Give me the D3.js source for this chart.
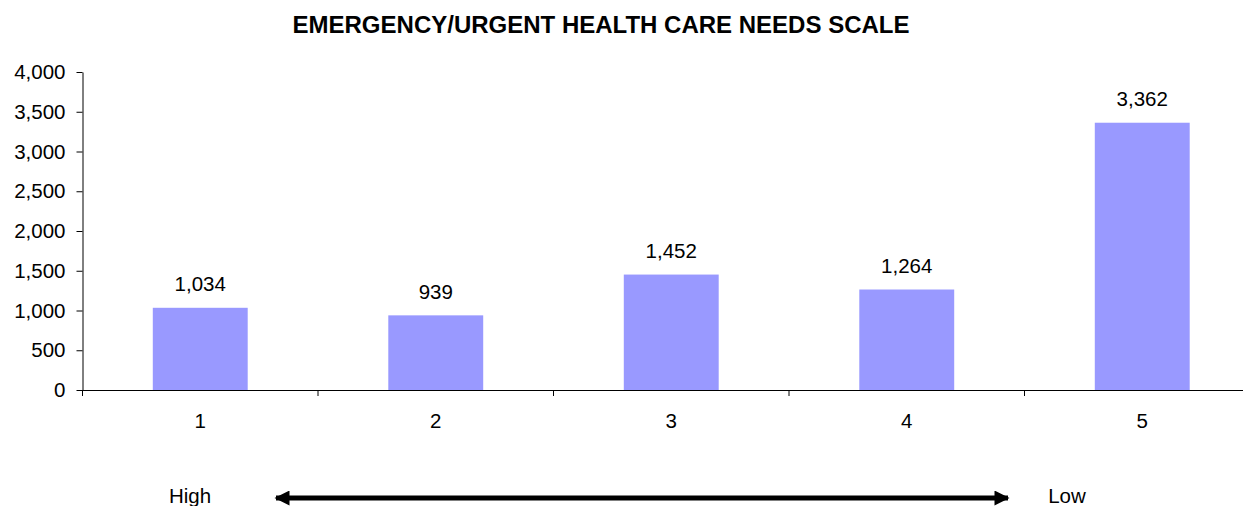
<!DOCTYPE html>
<html>
<head>
<meta charset="utf-8">
<script src="https://cdn.jsdelivr.net/npm/d3@7"></script>
<style>
  body { margin: 0; background: #fff; }
  svg { font-family: "Liberation Sans", Arial, sans-serif; }
</style>
</head>
<body>
<svg id="chart"></svg>
<script>
var categories = ["1", "2", "3", "4", "5"];
var values = [1034, 939, 1452, 1264, 3362];
var yTicks = [0, 500, 1000, 1500, 2000, 2500, 3000, 3500, 4000];
var scaleEnds = ["High", "Low"];

var width = 1243,
    height = 506;

var svg = d3.select("#chart")
  .attr("width", width)
  .attr("height", height);

var plotLeft = 82.5, plotRight = 1260, plotTop = 72, plotBottom = 390;
var inner = 0.597;
var labelSize = "20.5px";

var x = d3.scaleBand()
  .domain(categories)
  .range([plotLeft, plotRight])
  .paddingInner(inner)
  .paddingOuter(inner / 2);

var y = d3.scaleLinear()
  .domain([0, 4000])
  .range([plotBottom, plotTop]);

// title
svg.append("text")
  .attr("x", 601)
  .attr("y", 33)
  .attr("text-anchor", "middle")
  .style("font-size", "24px")
  .style("font-weight", "bold")
  .text("EMERGENCY/URGENT HEALTH CARE NEEDS SCALE");

// bars
svg.selectAll("rect.bar")
  .data(values)
  .enter().append("rect")
    .attr("class", "bar")
    .attr("x", function (d, i) { return x(categories[i]); })
    .attr("y", function (d) { return y(d); })
    .attr("width", x.bandwidth())
    .attr("height", function (d) { return y(0) - y(d); })
    .style("fill", "#9999ff");

// value labels
svg.selectAll("text.val")
  .data(values)
  .enter().append("text")
    .attr("class", "val")
    .attr("x", function (d, i) { return x(categories[i]) + x.bandwidth() / 2; })
    .attr("y", function (d) { return y(d) - 16.5; })
    .attr("text-anchor", "middle")
    .style("font-size", labelSize)
    .text(function (d) { return d3.format(",")(d); });

// y axis
var yAxis = svg.append("g")
  .attr("transform", "translate(" + plotLeft + ",0)")
  .call(d3.axisLeft(y).tickValues(yTicks).tickFormat(d3.format(",")).tickSize(6).tickSizeOuter(0).tickPadding(11));

yAxis.selectAll("text")
  .style("font-size", labelSize)
  .style("font-family", "Liberation Sans, Arial, sans-serif")
  .attr("fill", "#000");
yAxis.selectAll("line, path").attr("stroke", "#000");

// x axis labels
var xAxis = svg.append("g")
  .attr("transform", "translate(0," + plotBottom + ")")
  .call(d3.axisBottom(x).tickSize(0).tickSizeOuter(0).tickPadding(23));

xAxis.selectAll("text")
  .style("font-size", labelSize)
  .style("font-family", "Liberation Sans, Arial, sans-serif")
  .attr("fill", "#000");
xAxis.select("path").attr("stroke", "#000");

// category boundary ticks
var bounds = categories.map(function (c) { return x(c) - x.step() * inner / 2; });
bounds.push(plotRight);
svg.selectAll("line.xtick")
  .data(bounds)
  .enter().append("line")
    .attr("class", "xtick")
    .attr("x1", function (d) { return d; })
    .attr("x2", function (d) { return d; })
    .attr("y1", plotBottom)
    .attr("y2", plotBottom + 6)
    .attr("stroke", "#000");

// high / low scale
svg.append("text")
  .attr("x", 190)
  .attr("y", 503)
  .attr("text-anchor", "middle")
  .style("font-size", labelSize)
  .text(scaleEnds[0]);

svg.append("text")
  .attr("x", 1067)
  .attr("y", 503)
  .attr("text-anchor", "middle")
  .style("font-size", labelSize)
  .text(scaleEnds[1]);

var defs = svg.append("defs");
defs.append("marker")
  .attr("id", "arrow")
  .attr("viewBox", "0 0 10 10")
  .attr("refX", 9)
  .attr("refY", 5)
  .attr("markerUnits", "userSpaceOnUse")
  .attr("markerWidth", 18)
  .attr("markerHeight", 15)
  .attr("orient", "auto-start-reverse")
  .append("path")
    .attr("d", "M0,0 L10,5 L0,10 Z")
    .attr("fill", "#000");

svg.append("line")
  .attr("x1", 276)
  .attr("x2", 1008)
  .attr("y1", 498)
  .attr("y2", 498)
  .attr("stroke", "#000")
  .attr("stroke-width", 5)
  .attr("marker-start", "url(#arrow)")
  .attr("marker-end", "url(#arrow)");
</script>
</body>
</html>
